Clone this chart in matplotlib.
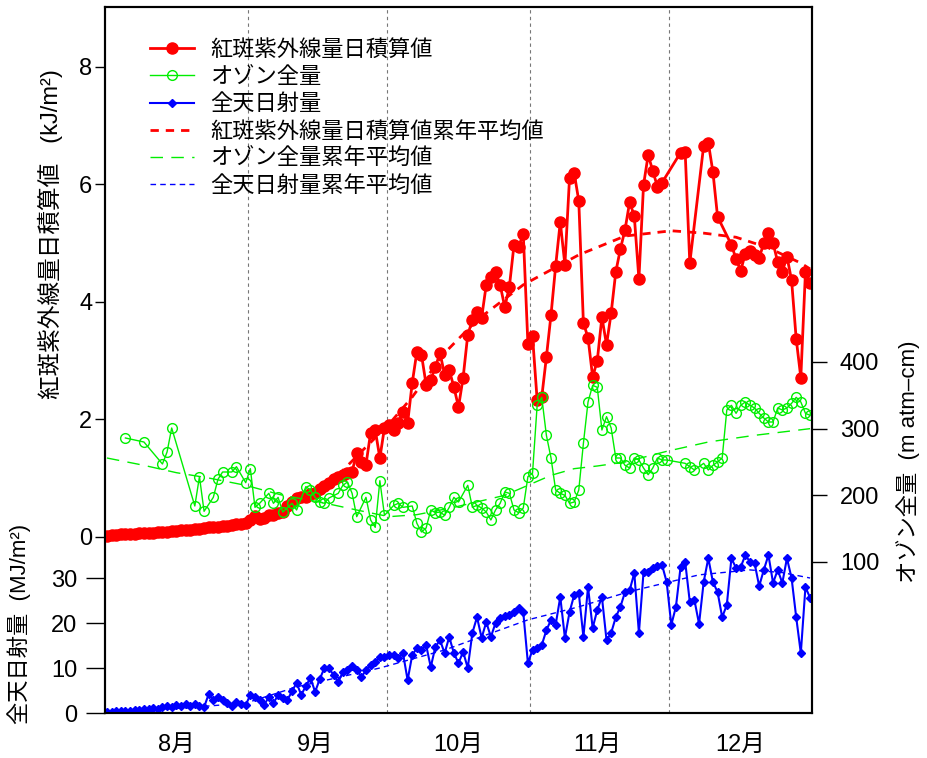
import matplotlib
matplotlib.use("Agg")
import matplotlib.pyplot as plt
import numpy as np
import pandas as pd

plt.rcParams['font.family'] = ['Liberation Sans', 'Noto Sans CJK JP']

start = pd.Timestamp('2012-08-01')
dates = pd.date_range(start, '2012-12-31', freq='D')

# 紅斑紫外線量日積算値 (kJ/m2), daily Aug 1 - Dec 31, nan = no data
uv = [0.02, 0.03, 0.03, 0.04, 0.04, 0.05, 0.05, 0.06, 0.06, 0.07, 0.07, 0.08, 0.08, 0.09, 0.10, 0.10,
      0.11, 0.12, 0.12, 0.13, 0.14, 0.15, 0.16, 0.17, 0.17, 0.18, 0.19, 0.20, 0.21, 0.22, 0.23,
      0.29, 0.36, 0.31, 0.32, 0.37, 0.37, 0.41, 0.43, 0.53, 0.60, 0.66, 0.68, 0.68, 0.73, 0.75,
      0.82, 0.87, 0.92, 0.99, 1.02, 1.06, 1.09, 1.11, 1.43, 1.28, 1.23, 1.77, 1.82, 1.34, 1.86,
      1.91, 1.82, 1.94, 2.13, 1.94, 2.62, 3.15, 3.10, 2.59, 2.67, 2.89, 3.13, 2.76, 2.84, 2.55,
      2.21, 2.71, 3.44, 3.69, 3.83, 3.73, 4.29, 4.43, 4.51, 4.29, 3.91, 4.26, 4.97, 4.94, 5.16, 3.29,
      3.42, 2.33, 2.38, 3.06, 3.78, 4.61, 5.36, 4.63, 6.11, 6.20, 5.72, 3.64, 3.39, 2.72, 3.00,
      3.74, 3.27, 3.81, 4.51, 4.90, 5.23, 5.70, 5.46, 4.39, 5.99, 6.50, 6.23, 5.96, 6.03, np.nan,
      np.nan, np.nan, 6.54, 6.55, 4.66, np.nan, np.nan, 6.66, 6.71, 6.21, 5.45, np.nan, np.nan,
      4.97, 4.73, 4.53, 4.82, 4.87, 4.80, 4.75, 5.00, 5.17, 5.00, 4.68, 4.51, 4.77, 4.37, 3.37,
      2.71, 4.51, 4.32]

# 全天日射量 (MJ/m2), daily
rad = [0.3, 0.3, 0.4, 0.4, 0.5, 0.5, 0.6, 0.7, 0.8, 1.0, 1.2, 0.9, 1.3, 1.6, 1.4, 1.7,
       1.5, 2.1, 1.6, 2.0, 1.5, 1.3, 4.2, 3.0, 3.6, 3.0, 2.2, 1.6, 2.4, 2.0, 1.8,
       4.0, 3.6, 2.8, 1.8, 3.6, 2.2, 4.0, 3.3, 2.9, 4.8, 6.7, 4.0, 6.0, 7.8, 4.7,
       7.5, 10.0, 10.0, 8.4, 6.9, 9.1, 9.5, 10.4, 9.6, 8.0, 9.5, 10.7, 11.3, 12.4, 12.4,
       12.9, 13.0, 12.2, 13.3, 7.3, 12.9, 14.4, 14.0, 15.1, 10.2, 14.7, 16.2, 13.3, 16.9, 13.3,
       11.1, 13.6, 10.0, 17.8, 21.3, 16.7, 20.2, 16.9, 20.0, 21.1, 21.5, 21.8, 22.5, 23.3, 22.4, 11.1,
       14.0, 14.4, 15.1, 18.4, 20.7, 19.6, 25.8, 16.7, 22.4, 26.2, 26.7, 16.9, 28.0, 18.9, 22.9,
       25.8, 16.2, 17.8, 21.3, 23.6, 26.9, 27.3, 31.1, 17.8, 31.3, 31.3, 32.2, 32.6, 32.9, 29.1,
       19.6, 23.6, 32.4, 33.6, 24.7, 25.1, 19.8, 29.1, 34.4, 29.1, 26.9, 21.3, 24.0, 34.4, 32.2,
       32.4, 35.1, 33.6, 33.3, 28.2, 31.8, 35.1, 28.9, 31.8, 28.9, 34.4, 30.0, 21.3, 13.3, 28.0, 25.6]

# オゾン全量 (m atm-cm), observed days only (days since Aug 1)
oz_day = [4, 8, 12, 13, 14, 19, 20, 21, 23, 24, 25, 27, 28, 30, 31,
          32, 33, 35, 36, 37, 38, 40, 41, 43, 44, 45, 46, 47, 48, 50, 51, 52, 53, 54, 56, 57, 58, 59, 60,
          62, 63, 64, 66, 67, 68, 69, 70, 71, 72, 73, 74, 75, 76, 78, 79, 80, 81, 82, 83, 84, 85, 86,
          87, 88, 89, 90, 91,
          92, 93, 94, 95, 96, 97, 98, 99, 100, 101, 102, 103, 104, 105, 106, 107, 108, 109, 110, 111,
          112, 113, 114, 115, 116, 117, 118, 119, 120, 121,
          125, 126, 127, 129, 130, 131, 132, 133, 134, 135, 136, 137, 138, 139, 140, 141, 142, 143,
          144, 145, 146, 147, 148, 149, 150, 151, 152]
oz = [286, 280, 247, 265, 301, 184, 228, 176, 197, 224, 235, 235, 243, 219, 240,
      182, 188, 203, 188, 197, 175, 188, 178, 213, 208, 197, 190, 188, 196, 203, 215, 220, 203, 168,
      197, 163, 152, 222, 170,
      185, 188, 182, 184, 158, 145, 151, 178, 174, 175, 170, 182, 197, 190, 215, 182, 185, 181, 175,
      163, 178, 188, 205, 203, 178, 174, 181, 228,
      233, 335, 347, 290, 256, 208, 203, 200, 188, 190, 208, 278, 340, 365, 362, 298, 318, 301, 256,
      256, 245, 241, 256, 253, 241, 231, 241, 256, 253, 253,
      248, 243, 238, 248, 238, 245, 250, 256, 328, 335, 323, 335, 340, 335, 331, 323, 316, 310,
      310, 331, 328, 331, 338, 347, 340, 323, 320]

# 累年平均値 (read at a few days along the dashed curves)
uv_mean_day = [0, 15, 30, 38, 45, 50, 55, 61, 66, 73, 80, 90, 102, 112, 122, 129, 136, 143, 150, 152]
uv_mean = [0.02, 0.09, 0.25, 0.45, 0.72, 1.05, 1.45, 1.92, 2.38, 3.13, 3.69, 4.29, 4.80, 5.12,
           5.21, 5.17, 5.10, 4.92, 4.66, 4.56]
oz_mean_day = [0, 8, 15, 22, 30, 38, 46, 54, 61, 67, 75, 86, 96, 101, 106, 112, 121, 130, 140, 152]
oz_mean = [256, 245, 234, 226, 215, 200, 190, 178, 168, 171, 182, 200, 230, 240, 244, 250, 266,
           280, 290, 300]
rad_mean_day = [0, 15, 30, 41, 50, 59, 73, 91, 102, 113, 128, 139, 146, 152]
rad_mean = [0.3, 1.0, 2.2, 5.8, 7.9, 10.0, 14.0, 20.7, 23.6, 27.0, 30.7, 31.8, 31.2, 30.0]

month_mid = ['2012-08-16', '2012-09-15', '2012-10-16', '2012-11-15', '2012-12-16']
month_labels = ['8月', '9月', '10月', '11月', '12月']
month_start = ['2012-09-01', '2012-10-01', '2012-11-01', '2012-12-01']

RED, GREEN, BLUE = '#ff0000', '#00ee00', '#0000ff'

def to_dates(days):
    return start + pd.to_timedelta(days, unit='D')

uv = np.array(uv, dtype=float)
ok = ~np.isnan(uv)

fig = plt.figure(figsize=(9.27, 7.58), dpi=100)
pos = [105 / 927, 1 - 713 / 758, (812 - 105) / 927, (713 - 7) / 758]
ax = fig.add_axes(pos)
ax_rad = fig.add_axes(pos, sharex=ax, frameon=False)
ax_oz = ax.twinx()

for d in month_start:
    ax.axvline(pd.Timestamp(d) - pd.Timedelta(hours=12), color='#777777', lw=0.8,
               dashes=(3, 3), zorder=0)

l_uv, = ax.plot(dates[ok], uv[ok], color=RED, lw=2, marker='o', ms=8, zorder=3)
l_uvm, = ax.plot(to_dates(uv_mean_day), uv_mean, color=RED, lw=2, dashes=(3, 2.5), zorder=2)

l_rad, = ax_rad.plot(dates, rad, color=BLUE, lw=1.5, marker='D', ms=4)
l_radm, = ax_rad.plot(to_dates(rad_mean_day), rad_mean, color=BLUE, lw=1, dashes=(4, 3))

l_oz, = ax_oz.plot(to_dates(oz_day), oz, color=GREEN, lw=1, marker='o', ms=7, mfc='none', mew=1)
l_ozm, = ax_oz.plot(to_dates(oz_mean_day), oz_mean, color=GREEN, lw=1, dashes=(9, 6))

ax.set_xlim(dates[0] - pd.Timedelta(hours=10), dates[-1] + pd.Timedelta(hours=10))
ax.set_ylim(-3.0, 9.02)
ax_rad.set_ylim(0, 156.9)
ax_oz.set_ylim(-126.5, 932.5)

ax.set_xticks([pd.Timestamp(m) for m in month_mid])
ax.set_xticklabels(month_labels)
ax.tick_params(axis='x', length=0, pad=15, labelsize=17)
ax.set_yticks([0, 2, 4, 6, 8])
ax.tick_params(axis='y', length=7, width=1, pad=2, labelsize=17)

ax_rad.xaxis.set_visible(False)
ax_rad.patch.set_visible(False)
ax_rad.set_yticks([0, 10, 20, 30])
ax_rad.tick_params(axis='y', length=14, width=1, pad=6, labelsize=17)

ax_oz.set_yticks([100, 200, 300, 400])
ax_oz.tick_params(axis='y', length=11, width=1, pad=9, labelsize=17)

for sp in ax.spines.values():
    sp.set_linewidth(1.5)
for sp in ax_oz.spines.values():
    sp.set_linewidth(1.5)

fig.text(50 / 927, 1 - 234 / 758, '紅斑紫外線量日積算値   (kJ/m²)', rotation=90,
         ha='center', va='center', fontsize=17)
fig.text(19 / 927, 1 - 624 / 758, '全天日射量  (MJ/m²)', rotation=90,
         ha='center', va='center', fontsize=16)
fig.text(908 / 927, 1 - 462 / 758, 'オゾン全量  (m atm–cm)', rotation=90,
         ha='center', va='center', fontsize=16)

handles = [l_uv, l_oz, l_rad, l_uvm, l_ozm, l_radm]
labels = ['紅斑紫外線量日積算値', 'オゾン全量', '全天日射量',
          '紅斑紫外線量日積算値累年平均値', 'オゾン全量累年平均値', '全天日射量累年平均値']
ax_oz.legend(handles, labels, loc='upper left', bbox_to_anchor=(150 / 927, 1 - 40 / 758),
             bbox_transform=fig.transFigure, frameon=False, fontsize=16, handlelength=2.0,
             handletextpad=0.7, labelspacing=0.28, borderpad=0, borderaxespad=0)

fig.savefig('out.png', dpi=100)
